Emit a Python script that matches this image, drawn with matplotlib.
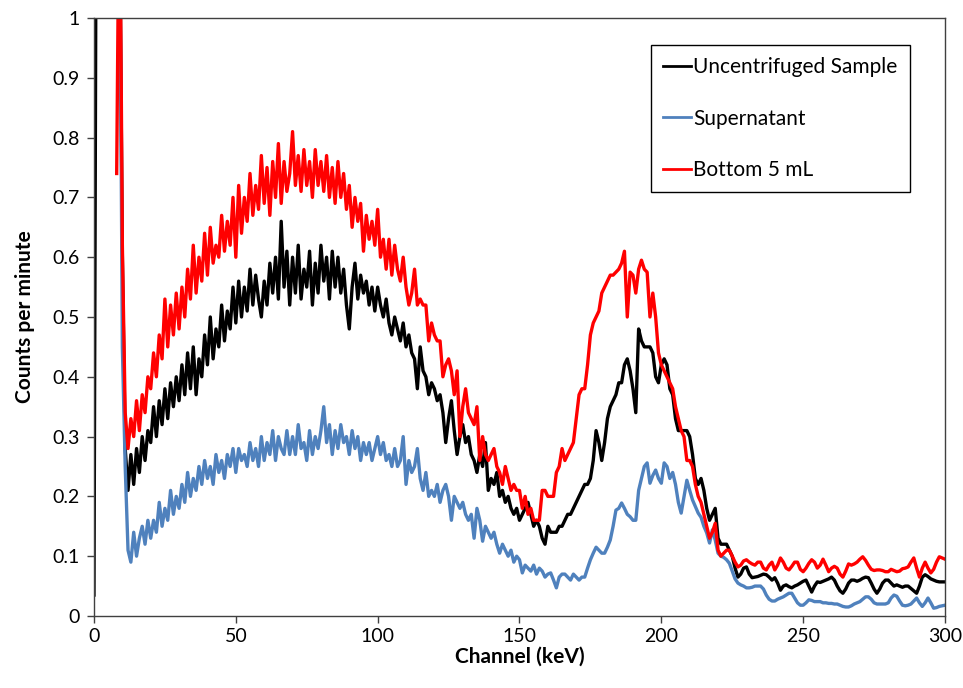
import numpy as np
import matplotlib
matplotlib.use("Agg")
import matplotlib.pyplot as plt

# ───── data (counts per minute, 1 keV per channel) ─────
uncentrifuged = [
    0.035, 1.6, 1.6, 1.6, 1.6, 1.6, 1.6, 1.6, 1.6, 1.2,
    0.60, 0.28, 0.21, 0.27, 0.22, 0.28, 0.24, 0.30, 0.26, 0.31,
    0.29, 0.35, 0.30, 0.36, 0.32, 0.38, 0.33, 0.39, 0.35, 0.40,
    0.36, 0.42, 0.37, 0.44, 0.38, 0.45, 0.37, 0.43, 0.40, 0.47,
    0.42, 0.50, 0.43, 0.48, 0.45, 0.52, 0.46, 0.51, 0.48, 0.55,
    0.49, 0.56, 0.50, 0.55, 0.51, 0.58, 0.52, 0.57, 0.53, 0.50,
    0.56, 0.52, 0.59, 0.54, 0.60, 0.53, 0.66, 0.55, 0.61, 0.52,
    0.60, 0.54, 0.62, 0.53, 0.58, 0.55, 0.61, 0.52, 0.59, 0.54,
    0.62, 0.56, 0.60, 0.53, 0.61, 0.55, 0.60, 0.54, 0.58, 0.52,
    0.48, 0.55, 0.59, 0.53, 0.57, 0.54, 0.56, 0.52, 0.55, 0.51,
    0.55, 0.52, 0.50, 0.53, 0.49, 0.47, 0.50, 0.48, 0.46, 0.49,
    0.45, 0.47, 0.44, 0.43, 0.38, 0.45, 0.41, 0.40, 0.37, 0.39,
    0.38, 0.36, 0.37, 0.34, 0.29, 0.33, 0.36, 0.31, 0.27, 0.30,
    0.32, 0.29, 0.30, 0.27, 0.26, 0.24, 0.27, 0.25, 0.29, 0.21,
    0.23, 0.22, 0.24, 0.20, 0.21, 0.19, 0.20, 0.18, 0.17, 0.18,
    0.16, 0.17, 0.18, 0.19, 0.17, 0.15, 0.16, 0.15, 0.13, 0.12,
    0.15, 0.14, 0.14, 0.14, 0.15, 0.15, 0.16, 0.17, 0.17, 0.18,
    0.19, 0.20, 0.21, 0.22, 0.22, 0.23, 0.26, 0.31, 0.29, 0.26,
    0.29, 0.33, 0.35, 0.36, 0.37, 0.39, 0.39, 0.42, 0.43, 0.41,
    0.38, 0.34, 0.48, 0.46, 0.45, 0.45, 0.45, 0.44, 0.40, 0.39,
    0.42, 0.43, 0.42, 0.38, 0.37, 0.33, 0.31, 0.31, 0.31, 0.31,
    0.30, 0.27, 0.23, 0.22, 0.23, 0.21, 0.18, 0.16, 0.17, 0.18,
    0.13, 0.12, 0.12, 0.12, 0.11, 0.10, 0.08, 0.065, 0.07, 0.08,
    0.082, 0.07, 0.064, 0.065, 0.066, 0.068, 0.07, 0.069, 0.065, 0.06,
    0.064, 0.055, 0.043, 0.05, 0.052, 0.049, 0.047, 0.05, 0.052, 0.055,
    0.058, 0.06, 0.05, 0.04, 0.05, 0.057, 0.056, 0.058, 0.06, 0.062,
    0.065, 0.06, 0.05, 0.042, 0.038, 0.045, 0.055, 0.06, 0.06, 0.058,
    0.06, 0.063, 0.065, 0.064, 0.055, 0.045, 0.038, 0.045, 0.055, 0.06,
    0.06, 0.055, 0.05, 0.052, 0.05, 0.048, 0.05, 0.05, 0.046, 0.042,
    0.038, 0.05, 0.065, 0.069, 0.066, 0.062, 0.06, 0.058, 0.057, 0.057,
    0.057,
]

supernatant = [
    1.2,
    0.45, 0.25, 0.11, 0.09, 0.14, 0.10, 0.13, 0.15, 0.12, 0.16,
    0.13, 0.16, 0.14, 0.19, 0.15, 0.18, 0.16, 0.21, 0.17, 0.20,
    0.18, 0.22, 0.19, 0.24, 0.20, 0.23, 0.21, 0.25, 0.22, 0.26,
    0.23, 0.25, 0.22, 0.27, 0.24, 0.26, 0.23, 0.27, 0.25, 0.28,
    0.24, 0.28, 0.26, 0.27, 0.25, 0.29, 0.26, 0.28, 0.25, 0.30,
    0.26, 0.29, 0.27, 0.31, 0.26, 0.30, 0.28, 0.27, 0.31, 0.27,
    0.30, 0.27, 0.32, 0.28, 0.29, 0.26, 0.31, 0.27, 0.30, 0.28,
    0.31, 0.35, 0.29, 0.32, 0.27, 0.31, 0.28, 0.32, 0.29, 0.30,
    0.27, 0.31, 0.28, 0.30, 0.26, 0.29, 0.27, 0.29, 0.26, 0.28,
    0.30, 0.27, 0.29, 0.26, 0.27, 0.25, 0.28, 0.25, 0.26, 0.30,
    0.22, 0.26, 0.24, 0.25, 0.28, 0.23, 0.21, 0.24, 0.20, 0.21,
    0.20, 0.22, 0.19, 0.21, 0.22, 0.20, 0.16, 0.20, 0.19, 0.18,
    0.19, 0.17, 0.16, 0.17, 0.13, 0.18, 0.16, 0.125, 0.15, 0.14,
    0.13, 0.14, 0.12, 0.105, 0.12, 0.11, 0.10, 0.11, 0.09, 0.10,
    0.094, 0.072, 0.085, 0.08, 0.075, 0.085, 0.07, 0.08, 0.075, 0.065,
    0.07, 0.072, 0.06, 0.047, 0.065, 0.07, 0.07, 0.065, 0.06, 0.07,
    0.065, 0.06, 0.065, 0.065, 0.08, 0.094, 0.105, 0.115, 0.11, 0.105,
    0.105, 0.115, 0.127, 0.15, 0.177, 0.18, 0.189, 0.18, 0.17, 0.166,
    0.16, 0.16, 0.21, 0.23, 0.25, 0.256, 0.222, 0.235, 0.244, 0.23,
    0.222, 0.256, 0.25, 0.23, 0.24, 0.22, 0.19, 0.172, 0.2, 0.227,
    0.21, 0.194, 0.183, 0.172, 0.165, 0.15, 0.139, 0.122, 0.144, 0.127,
    0.105, 0.1, 0.098, 0.094, 0.088, 0.075, 0.062, 0.055, 0.052, 0.05,
    0.047, 0.047, 0.048, 0.05, 0.05, 0.05, 0.045, 0.035, 0.028, 0.025,
    0.025, 0.028, 0.03, 0.032, 0.035, 0.038, 0.038, 0.03, 0.022, 0.018,
    0.018, 0.022, 0.027, 0.026, 0.024, 0.024, 0.024, 0.022, 0.022, 0.021,
    0.021, 0.02, 0.02, 0.018, 0.016, 0.015, 0.015, 0.017, 0.02, 0.022,
    0.024, 0.028, 0.032, 0.032, 0.028, 0.022, 0.02, 0.02, 0.02, 0.02,
    0.022, 0.03, 0.035, 0.033, 0.025, 0.018, 0.017, 0.018, 0.02, 0.025,
    0.03, 0.022, 0.016, 0.022, 0.03, 0.022, 0.013, 0.014, 0.016, 0.017,
    0.018,
]

bottom5 = [
    0.74, 1.3,
    0.62, 0.34, 0.28, 0.33, 0.30, 0.36, 0.31, 0.37, 0.34, 0.40,
    0.38, 0.44, 0.40, 0.47, 0.43, 0.53, 0.45, 0.52, 0.47, 0.54,
    0.48, 0.55, 0.50, 0.58, 0.53, 0.62, 0.54, 0.60, 0.56, 0.64,
    0.57, 0.65, 0.59, 0.62, 0.60, 0.67, 0.61, 0.66, 0.62, 0.70,
    0.60, 0.72, 0.64, 0.70, 0.66, 0.74, 0.67, 0.72, 0.68, 0.77,
    0.69, 0.75, 0.67, 0.76, 0.70, 0.79, 0.69, 0.76, 0.71, 0.74,
    0.81, 0.72, 0.77, 0.71, 0.78, 0.72, 0.76, 0.70, 0.78, 0.72,
    0.76, 0.71, 0.77, 0.70, 0.75, 0.69, 0.76, 0.70, 0.74, 0.68,
    0.72, 0.65, 0.70, 0.66, 0.69, 0.61, 0.67, 0.63, 0.66, 0.62,
    0.68, 0.60, 0.63, 0.58, 0.63, 0.57, 0.62, 0.58, 0.56, 0.60,
    0.55, 0.52, 0.54, 0.58, 0.52, 0.53, 0.52, 0.52, 0.46, 0.49,
    0.47, 0.46, 0.46, 0.40, 0.42, 0.43, 0.41, 0.37, 0.41, 0.30,
    0.35, 0.38, 0.34, 0.33, 0.32, 0.35, 0.26, 0.30, 0.27, 0.26,
    0.27, 0.28, 0.25, 0.24, 0.22, 0.25, 0.23, 0.21, 0.22, 0.21,
    0.21, 0.18, 0.20, 0.17, 0.18, 0.16, 0.16, 0.16, 0.21, 0.21,
    0.20, 0.20, 0.20, 0.24, 0.25, 0.28, 0.26, 0.27, 0.28, 0.29,
    0.33, 0.37, 0.38, 0.38, 0.42, 0.47, 0.49, 0.50, 0.51, 0.54,
    0.55, 0.56, 0.57, 0.57, 0.575, 0.58, 0.59, 0.61, 0.50, 0.575,
    0.57, 0.54, 0.58, 0.595, 0.58, 0.575, 0.50, 0.54, 0.50, 0.44,
    0.42, 0.41, 0.40, 0.39, 0.38, 0.35, 0.33, 0.31, 0.30, 0.26,
    0.26, 0.25, 0.22, 0.20, 0.19, 0.17, 0.15, 0.13, 0.14, 0.155,
    0.11, 0.10, 0.105, 0.11, 0.11, 0.10, 0.09, 0.082, 0.085, 0.092,
    0.094, 0.09, 0.087, 0.085, 0.09, 0.09, 0.08, 0.077, 0.085, 0.09,
    0.077, 0.085, 0.097, 0.09, 0.08, 0.077, 0.083, 0.09, 0.09, 0.078,
    0.074, 0.08, 0.088, 0.094, 0.09, 0.08, 0.085, 0.095, 0.085, 0.074,
    0.08, 0.083, 0.08, 0.07, 0.065, 0.075, 0.087, 0.085, 0.087, 0.09,
    0.095, 0.099, 0.093, 0.085, 0.078, 0.076, 0.077, 0.077, 0.076, 0.074,
    0.074, 0.078, 0.076, 0.074, 0.075, 0.079, 0.08, 0.082, 0.09, 0.097,
    0.08, 0.065, 0.08, 0.09, 0.08, 0.072, 0.078, 0.09, 0.099, 0.097,
    0.095,
]

# first channel of each series
start_unc, start_sup, start_bot = 0, 9, 8
last_channel = 300

x_unc = np.arange(start_unc, last_channel + 1)
x_sup = np.arange(start_sup, last_channel + 1)
x_bot = np.arange(start_bot, last_channel + 1)
assert len(x_unc) == len(uncentrifuged), (len(x_unc), len(uncentrifuged))
assert len(x_sup) == len(supernatant), (len(x_sup), len(supernatant))
assert len(x_bot) == len(bottom5), (len(x_bot), len(bottom5))

# ───── figure ─────
plt.rcParams["font.family"] = ["Lato", "DejaVu Sans"]

fig = plt.figure(figsize=(9.63, 6.88), dpi=100)
ax = fig.add_axes([0.0976, 0.1047, 0.8837, 0.8691])

ax.plot(x_unc, uncentrifuged, color="black", lw=2.4, label="Uncentrifuged Sample")
ax.plot(x_sup, supernatant, color="#4F81BD", lw=2.4, label="Supernatant")
ax.plot(x_bot, bottom5, color="#FF0000", lw=2.4, label="Bottom 5 mL")

ax.set_xlim(0, 300)
ax.set_ylim(0, 1)
ax.set_xticks(np.arange(0, 301, 50))
ax.set_yticks(np.arange(0, 1.01, 0.1))
ax.set_yticklabels(["0", "0.1", "0.2", "0.3", "0.4", "0.5",
                    "0.6", "0.7", "0.8", "0.9", "1"])
ax.tick_params(direction="out", length=5, width=1, labelsize=14, color="#404040")
ax.tick_params(axis="y", pad=5)
for s in ax.spines.values():
    s.set_linewidth(1.0)
    s.set_color("#404040")

ax.set_xlabel("Channel (keV)", fontsize=15, fontweight="bold", labelpad=1)
ax.set_ylabel("Counts per minute", fontsize=15, fontweight="bold", labelpad=13)

leg = ax.legend(loc="upper right", bbox_to_anchor=(0.959, 0.955), fontsize=15,
                frameon=True, fancybox=False, edgecolor="black", framealpha=1,
                handlelength=1.35, handletextpad=0.1, labelspacing=1.5,
                borderpad=0.6, borderaxespad=0)
leg.get_frame().set_linewidth(1.0)
for h in leg.get_lines():
    h.set_linewidth(2.0)

fig.savefig("out.png", dpi=100)
